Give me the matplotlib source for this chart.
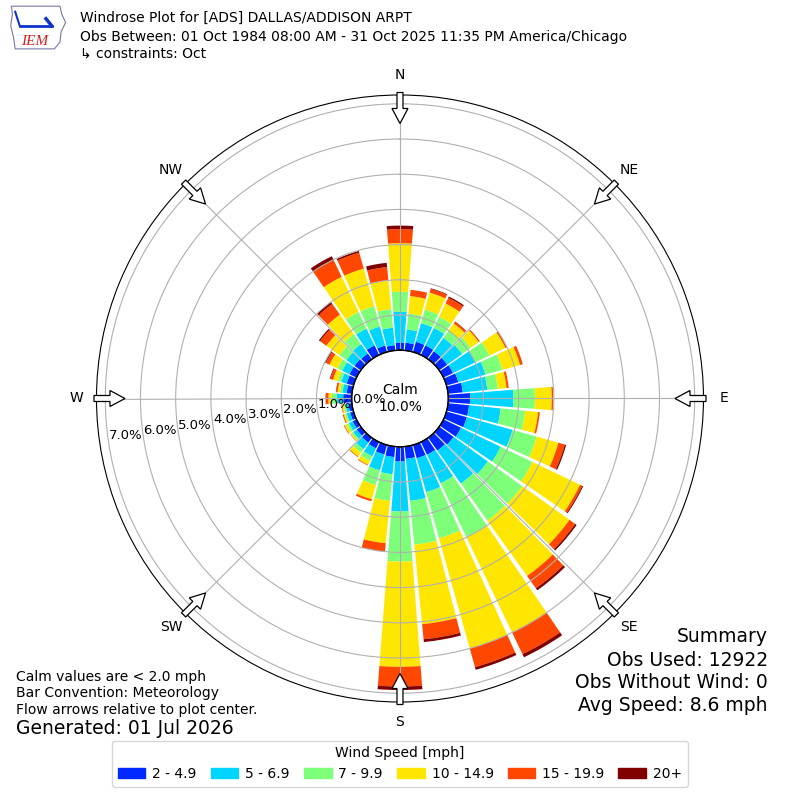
import matplotlib
matplotlib.use('Agg')
import matplotlib.pyplot as plt
from matplotlib.patches import Rectangle, Polygon
import numpy as np

# wind directions (deg, meteorological) and frequency [%] per speed bin
directions = np.arange(0, 360, 10)
speed_bins = ['2 - 4.9', '5 - 6.9', '7 - 9.9', '10 - 14.9', '15 - 19.9', '20+']

freq_2_5 = [0.22, 0.22, 0.30, 0.30, 0.28, 0.28, 0.30, 0.35, 0.42, 0.62, 0.60, 0.60,
            0.55, 0.50, 0.45, 0.40, 0.39, 0.35, 0.42, 0.30, 0.28, 0.20, 0.17, 0.14,
            0.12, 0.10, 0.10, 0.24, 0.15, 0.20, 0.22, 0.22, 0.20, 0.30, 0.19, 0.15]
freq_5_7 = [0.87, 0.38, 0.55, 0.55, 0.47, 0.52, 0.70, 0.80, 0.70, 1.23, 0.90, 1.35,
            1.25, 1.20, 1.15, 0.90, 1.00, 1.20, 1.42, 0.49, 0.47, 0.25, 0.23, 0.12,
            0.12, 0.10, 0.08, 0.19, 0.12, 0.16, 0.23, 0.28, 0.33, 0.53, 0.56, 0.50]
freq_7_10 = [0.57, 0.45, 0.40, 0.35, 0.25, 0.30, 0.45, 0.50, 0.30, 0.61, 0.70, 0.71,
             1.00, 1.20, 1.30, 1.70, 1.36, 1.25, 1.42, 0.76, 0.43, 0.15, 0.12, 0.06,
             0.07, 0.05, 0.05, 0.14, 0.07, 0.10, 0.15, 0.25, 0.35, 0.52, 0.60, 0.53]
freq_10_15 = [1.38, 0.50, 0.50, 0.42, 0.25, 0.28, 0.50, 0.52, 0.25, 0.48, 0.37, 0.64,
              1.50, 1.65, 1.93, 3.00, 3.25, 2.27, 2.99, 1.21, 0.42, 0.12, 0.14, 0.04,
              0.07, 0.04, 0.05, 0.09, 0.07, 0.14, 0.25, 0.45, 0.68, 1.11, 1.11, 0.82]
freq_15_20 = [0.40, 0.18, 0.11, 0.18, 0.06, 0.04, 0.05, 0.08, 0.06, 0.04, 0.05, 0.19,
              0.07, 0.20, 0.43, 0.68, 0.55, 0.43, 0.56, 0.24, 0.06, 0.02, 0.02, 0.01,
              0.02, 0.03, 0.02, 0.07, 0.04, 0.08, 0.11, 0.22, 0.37, 0.54, 0.47, 0.38]
freq_20p = [0.10, 0.00, 0.02, 0.04, 0.01, 0.00, 0.00, 0.00, 0.00, 0.00, 0.00, 0.04,
            0.03, 0.05, 0.07, 0.10, 0.08, 0.08, 0.10, 0.00, 0.00, 0.00, 0.00, 0.00,
            0.00, 0.00, 0.00, 0.01, 0.01, 0.02, 0.03, 0.04, 0.07, 0.11, 0.05, 0.12]

calm_pct = 10.0
obs_used = 12922
obs_no_wind = 0
avg_speed = 8.6

compass = ['N', 'NE', 'E', 'SE', 'S', 'SW', 'W', 'NW']

series = [freq_2_5, freq_5_7, freq_7_10, freq_10_15, freq_15_20, freq_20p]
colors = plt.cm.jet(np.linspace(1 / 6., 1, 6))

fig = plt.figure(figsize=(8, 8), dpi=100)
ax_px = 607.
ax = fig.add_axes([0.1206, 0.1225, ax_px / 800, ax_px / 800], projection='polar')
ax.set_theta_zero_location('N')
ax.set_theta_direction(-1)

theta = np.deg2rad(directions)
width = np.deg2rad(8.8)
bottom = np.zeros(len(directions))
for vals, c in zip(series, colors):
    vals = np.array(vals)
    ax.bar(theta, vals, width=width, bottom=bottom, color=c, linewidth=0)
    bottom += vals

ax.set_rorigin(-1.372)
ax.set_rlim(0, 7.25)
ax.set_yticks(range(8))
ax.set_yticklabels(['%.1f%%' % v for v in range(8)], fontsize=9.5)
ax.set_rlabel_position(261.5)
ax.set_xticks(np.deg2rad(np.arange(0, 360, 45)))
ax.set_xticklabels(compass, fontsize=10)
ax.tick_params(axis='x', pad=4)

# black edge of the calm circle
circ = np.linspace(0, 2 * np.pi, 361)
ax.plot(circ, np.zeros_like(circ), color='black', lw=1.0, zorder=5, clip_on=False)

# hollow flow arrows at the edge, built in pixel offsets from the centre
def arrow_shape(ang):
    # (along, across) in px: tail outside the rim, tip pointing to centre
    pts = [(306, -3), (290, -3), (290, -8), (275, 0), (290, 8), (290, 3), (306, 3)]
    a = np.deg2rad(ang)
    ux, uy = np.sin(a), np.cos(a)
    vx, vy = np.cos(a), -np.sin(a)
    return [(0.5 + (r * ux + s * vx) / ax_px, 0.5 + (r * uy + s * vy) / ax_px) for r, s in pts]

for ang in np.arange(0, 360, 45):
    ax.add_patch(Polygon(arrow_shape(ang), closed=True, fc='white', ec='black', lw=0.9,
                         transform=ax.transAxes, clip_on=False, zorder=6))

ax.text(0.5, 0.5, 'Calm\n%.1f%%' % calm_pct, transform=ax.transAxes,
        ha='center', va='center', fontsize=10)

# header
fig.text(0.1, 0.9775, 'Windrose Plot for [ADS] DALLAS/ADDISON ARPT', fontsize=10, va='center')
fig.text(0.1, 0.954, 'Obs Between: 01 Oct 1984 08:00 AM - 31 Oct 2025 11:35 PM America/Chicago',
         fontsize=10, va='center')
fig.text(0.1, 0.9325, '\u21b3 constraints: Oct', fontsize=10, va='center')

# logo (rough)
lax = fig.add_axes([0.012, 0.936, 0.07, 0.058])
lax.axis('off')
lax.set_xlim(0, 1)
lax.set_ylim(0, 1)
outline = [(0.03, 0.97), (0.9, 0.97), (0.93, 0.8), (1.0, 0.62), (0.92, 0.42), (0.9, 0.2),
           (0.8, 0.05), (0.1, 0.05), (0.07, 0.3), (0.02, 0.55), (0.05, 0.8)]
lax.add_patch(Polygon(outline, closed=True, fill=False, ec='#7777aa', lw=0.8))
lax.plot([0.18, 0.75], [0.55, 0.55], color='#1133cc', lw=2)
lax.plot([0.18, 0.1], [0.55, 0.85], color='#1133cc', lw=1.5)
lax.plot([0.65, 0.75], [0.7, 0.55], color='#1133cc', lw=2.5)
lax.text(0.45, 0.2, 'IEM', color='#cc2222', fontsize=11, family='Liberation Serif',
         style='italic', ha='center', va='center')

# footer notes
fig.text(0.02, 0.15375, 'Calm values are < 2.0 mph', fontsize=10, va='center')
fig.text(0.02, 0.13375, 'Bar Convention: Meteorology', fontsize=10, va='center')
fig.text(0.02, 0.1125, 'Flow arrows relative to plot center.', fontsize=10, va='center')
fig.text(0.02, 0.08875, 'Generated: 01 Jul 2026', fontsize=13.5, va='center')

fig.text(0.96, 0.2045, 'Summary', fontsize=13.5, ha='right', va='center')
fig.text(0.96, 0.175, 'Obs Used: %s' % obs_used, fontsize=13.5, ha='right', va='center')
fig.text(0.96, 0.1465, 'Obs Without Wind: %s' % obs_no_wind, fontsize=13.5, ha='right', va='center')
fig.text(0.96, 0.118, 'Avg Speed: %.1f mph' % avg_speed, fontsize=13.5, ha='right', va='center')

handles = [Rectangle((0, 0), 1, 1, color=c) for c in colors]
fig.legend(handles, speed_bins, loc='lower center', bbox_to_anchor=(0.5, 0.008), ncol=6,
           title='Wind Speed [mph]', fontsize=10, title_fontsize=10,
           columnspacing=1.0, handletextpad=0.5)

fig.savefig('out.png')
